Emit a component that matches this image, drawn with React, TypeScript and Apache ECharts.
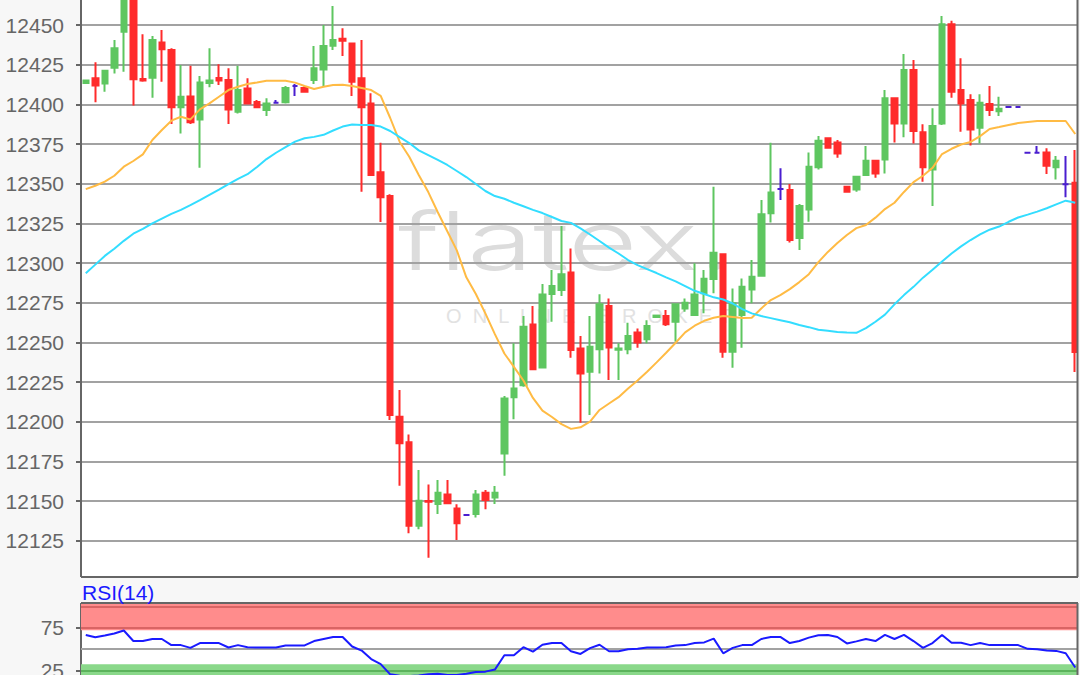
import * as React from "react";
import * as echarts from "echarts";

const opens = [
  12413.5, 12416.4, 12413.2, 12423.1, 12445.8, 12470, 12416, 12416.8, 12439, 12434.2, 12398.1, 12405, 12390.5, 12413.4, 12416.6,
  12415.3, 12395.4, 12410, 12401.5, 12396.4, 12401, 12401.3, 12411.6, 12410.3, 12415.3, 12422, 12437, 12441.4, 12438.4, 12416.4,
  12400.6, 12357.2, 12342.2, 12203.2, 12187, 12134.5, 12150, 12148.2, 12154.2, 12145.4, 12141.2, 12141.8, 12155.3, 12152.3, 12180,
  12215.4, 12223, 12261.3, 12234.2, 12280.5, 12283, 12294.1, 12246.2, 12231.5, 12245.6, 12272.9, 12245.4, 12245.6, 12256.3, 12251.9,
  12266, 12266.6, 12263, 12271.4, 12267.2, 12280.9, 12289.9, 12305.5, 12244.1, 12267.2, 12283.4, 12292, 12331.3, 12346.6, 12346,
  12315.8, 12333.8, 12360.3, 12378.6, 12376, 12348.1, 12346.4, 12355.5, 12364.5, 12365.3, 12403.8, 12388, 12421.6, 12382.4, 12359,
  12388, 12450.4, 12409, 12402.7, 12385.3, 12400.2, 12395.6, 12398.3, 12398.3, 12369.5, 12369.5, 12369.7, 12360.3, 12349.6, 12350.6,
];
const closes = [
  12415, 12411.8, 12421.2, 12435.3, 12470, 12415.8, 12415, 12440.5, 12434.7, 12398.1, 12404.8, 12388.7, 12413.7, 12415.1, 12415.1,
  12396.8, 12409, 12400.6, 12398.1, 12400.6, 12401, 12410.3, 12411.6, 12408, 12422.7, 12436.8, 12440.5, 12440, 12414.3, 12398.1,
  12355.5, 12341.4, 12204.2, 12186.4, 12134.5, 12150.2, 12149.6, 12155.3, 12148.6, 12136, 12141.2, 12154.2, 12150.7, 12155.3, 12214.7,
  12221, 12259.9, 12233, 12280.2, 12285.5, 12293, 12245.2, 12230.4, 12247.3, 12274.1, 12246.8, 12246.2, 12254, 12250, 12260.3,
  12266.9, 12261.5, 12274.1, 12275, 12280.2, 12290.1, 12306.5, 12244.1, 12274.6, 12285, 12291.4, 12330.7, 12344.4, 12346.6, 12314.5,
  12335.9, 12360.7, 12377.1, 12372.7, 12369.1, 12345, 12354.4, 12364.5, 12356.5, 12403.8, 12388, 12421.6, 12383.2, 12360.3, 12386.3,
  12450.4, 12408, 12400.6, 12384.2, 12401, 12396.4, 12397.3, 12398.3, 12398.3, 12369.5, 12369.5, 12361.3, 12364.5, 12349.6, 12244,
];
const lows = [
  12413.5, 12401.3, 12408, 12419.5, 12420.6, 12399.2, 12414.3, 12404.2, 12414.3, 12387.6, 12381.7, 12387.6, 12360, 12410.7, 12412.2,
  12387.6, 12394.3, 12400, 12398, 12392.6, 12401, 12400.6, 12405.3, 12408, 12412.8, 12411, 12434.2, 12430.5, 12405.3, 12345,
  12355.5, 12325.8, 12201.1, 12159.7, 12129.7, 12132.2, 12114.3, 12141.8, 12148, 12125.5, 12141.2, 12139.7, 12144.8, 12148.2, 12166,
  12201.5, 12222, 12232.5, 12234, 12263, 12279.2, 12240.3, 12199.4, 12204.2, 12230.4, 12226.3, 12226.3, 12242.6, 12246.6, 12249.4,
  12266, 12260.3, 12250.4, 12269.3, 12267, 12268.3, 12280.9, 12240.3, 12234, 12246.6, 12274.6, 12292, 12325.6, 12339.7, 12313,
  12308.2, 12326, 12359, 12372.5, 12366.4, 12345, 12345, 12355, 12353.8, 12356.5, 12376, 12379.2, 12375.4, 12351.3, 12336,
  12387, 12404.2, 12382.8, 12374, 12375.4, 12392.6, 12392.6, 12398.3, 12398.3, 12369.5, 12369.5, 12356.1, 12352.7, 12341.4, 12231.3,
];
const highs = [
  12415, 12426.5, 12421.5, 12440.5, 12472, 12472, 12444.1, 12443, 12446.8, 12435.3, 12424.8, 12424.4, 12417.9, 12435.3, 12425.2,
  12422.7, 12424.4, 12416.4, 12402.7, 12403.8, 12402.7, 12411.6, 12412.8, 12411.6, 12436.8, 12450, 12462, 12447.9, 12438.9, 12440.5,
  12407, 12375.8, 12343.3, 12220, 12192, 12169.6, 12160.5, 12163.3, 12163.3, 12148, 12141.2, 12157, 12157, 12159.5, 12216.2,
  12249.4, 12266.6, 12272.9, 12286.8, 12295.6, 12323.3, 12309.2, 12254, 12266.6, 12280.4, 12277.7, 12249.4, 12262.4, 12258.8, 12264,
  12266.9, 12270.4, 12274.5, 12277.7, 12299.8, 12295.6, 12348, 12305.5, 12284, 12290.3, 12301.9, 12339.7, 12375.8, 12359.7, 12349.8,
  12337.2, 12369.7, 12380, 12379, 12377.5, 12348.1, 12354.4, 12373.7, 12364.5, 12409, 12404, 12431.7, 12428, 12387.4, 12397.5,
  12455.7, 12452.7, 12429, 12406.3, 12406.3, 12411.6, 12404.8, 12398.3, 12398.3, 12369.5, 12373.7, 12372.3, 12367.4, 12367.4, 12371.2,
];
const maOrange = [
  12346.6, 12348.7, 12351.3, 12355, 12360.7, 12364.3, 12368.5, 12377.5, 12383.8, 12389.7, 12392.2, 12390.5, 12396.8, 12400.6, 12404.8,
  12409, 12411.1, 12412.8, 12413.8, 12414.9, 12414.9, 12414.9, 12413.7, 12411.6, 12409.7, 12411.1, 12412.2, 12412.4, 12411.6, 12410.3,
  12409, 12405.3, 12391.4, 12376.3, 12367, 12355.5, 12344.7, 12332, 12320, 12308, 12291, 12280.5, 12268.3, 12255.2, 12243,
  12234.6, 12226, 12215, 12207, 12203, 12198.5, 12195.5, 12196.5, 12200, 12207.4, 12211.5, 12215.5, 12221, 12226, 12231.5,
  12237.4, 12243.5, 12249.8, 12256.3, 12260.5, 12263.6, 12265.5, 12266.6, 12266, 12265.3, 12265.5, 12271.4, 12276.7, 12279.8, 12283.6,
  12288, 12293, 12300.6, 12307, 12312.6, 12317.7, 12322, 12324, 12328.6, 12334, 12338, 12344.8, 12351, 12355, 12360,
  12368.7, 12372, 12374.7, 12376.3, 12380, 12384.5, 12385.7, 12387, 12388.2, 12388.9, 12389.5, 12389.5, 12389.5, 12389.5, 12381.3,
];
const maCyan = [
  12293.5, 12299, 12304.5, 12309, 12314, 12318.5, 12321.5, 12325, 12328, 12331, 12333.5, 12336.5, 12339.7, 12343, 12346.3,
  12349.8, 12353, 12356, 12360.5, 12365.5, 12369.5, 12373, 12376.5, 12378.6, 12379.5, 12380.8, 12383.5, 12386, 12387.3, 12387,
  12387, 12386, 12383.2, 12379.4, 12375.6, 12371, 12368, 12365, 12361.8, 12358, 12354.2, 12349.8, 12345.4, 12342.2, 12340.5,
  12338, 12335.8, 12333.5, 12331.5, 12329, 12326.5, 12325.3, 12321.8, 12318, 12313.9, 12309.7, 12306, 12301.9, 12298.7, 12296.2,
  12293.7, 12291, 12288.4, 12285.5, 12282.5, 12280.5, 12278.4, 12277, 12274.5, 12271, 12268.3, 12266.6, 12265.3, 12264, 12262.7,
  12261, 12259.6, 12258, 12257.3, 12256.6, 12256.2, 12256, 12259, 12263, 12267.5, 12274, 12279.8, 12285, 12290.8, 12295.8,
  12301, 12306, 12310.5, 12314.5, 12318, 12321, 12323, 12326, 12328.7, 12330.5, 12332.4, 12334.5, 12337, 12339.3, 12338,
];
const rsi = [
  66.8, 64, 66, 68.4, 72, 59.6, 59.6, 62, 62, 54.8, 54.8, 51.6, 57.2, 57.2, 57.2,
  52, 54.8, 52.4, 52, 52, 52, 54.4, 54.4, 54.4, 59.6, 62, 64.4, 64.4, 53.2, 48.4,
  38.4, 32.4, 20.4, 18.8, 18.4, 19.2, 20.4, 21.2, 19.6, 19.6, 21.2, 23.2, 23.6, 26, 42.8,
  42.8, 52.4, 47.2, 55.2, 57.2, 57.2, 47.6, 44.4, 51.2, 55.2, 47.6, 47.6, 50, 50.4, 52,
  52, 52.4, 54.4, 54.8, 57.2, 58, 62.4, 45.2, 51.6, 54.8, 54.8, 62, 64.4, 64.4, 57.2,
  59.6, 63.6, 66.4, 66.8, 64.4, 56.8, 59.2, 62, 59.6, 66.8, 62, 66.8, 59.6, 51.6, 57.2,
  66.8, 57.6, 57.6, 54.8, 57.2, 54.8, 54.8, 54.8, 54.8, 50.4, 50, 48.4, 48, 45.2, 28.4,
];
const rsiLabels = [25, 75];
const rsiTitle = "RSI(14)";

const UP = "#5ec660";
const DOWN = "#ff2b2b";
const DOJI = "#4a1ed0";
const GRID_LINE = "#a2a2a2";
const FRAME = "#666666";
const PAGE_BG = "#f7f7f7";
const FONT = '"Liberation Sans", Arial, sans-serif';

const categories = opens.map((_, i) => String(i));

const candleData = opens.map((o, i) => {
  const value = [o, closes[i], lows[i], highs[i]];
  if (o !== closes[i]) return value;
  return {
    value,
    itemStyle: {
      color: DOJI,
      color0: DOJI,
      borderColor: DOJI,
      borderColor0: DOJI,
      borderColorDoji: DOJI,
    },
  };
});

const frameLine = (x1: number, y1: number, x2: number, y2: number) => ({
  type: "line",
  z: 60,
  silent: true,
  shape: { x1, y1, x2, y2 },
  style: { stroke: FRAME, lineWidth: 2 },
});

export default function App() {
  const ref = React.useRef<HTMLDivElement | null>(null);

  React.useEffect(() => {
    if (!ref.current) return;
    const chart = echarts.init(ref.current, undefined, { renderer: "svg" });
    const option: any = {
      animation: false,
      backgroundColor: PAGE_BG,
      grid: [
        { left: 81, width: 999, top: -14.67, height: 595.1, outerBoundsMode: "none" },
        { left: 81, width: 999, top: 603.3, height: 88.4, outerBoundsMode: "none" },
      ],
      xAxis: [
        { type: "category", gridIndex: 0, data: categories, show: false },
        { type: "category", gridIndex: 1, data: categories, show: false },
      ],
      yAxis: [
        {
          type: "value",
          gridIndex: 0,
          min: 12100,
          max: 12475,
          interval: 25,
          axisLine: { show: true, lineStyle: { color: FRAME, width: 2 } },
          axisTick: { show: true, length: 5, lineStyle: { color: FRAME, width: 2 } },
          axisLabel: {
            color: "#666",
            fontFamily: FONT,
            fontSize: 21,
            margin: 17,
            showMinLabel: false,
            showMaxLabel: false,
            formatter: (v: number) => String(v),
          },
          splitLine: { show: true, lineStyle: { color: GRID_LINE, width: 2 } },
        },
        {
          type: "value",
          gridIndex: 1,
          min: 0,
          max: 104,
          axisLine: { show: true, lineStyle: { color: FRAME, width: 2 } },
          axisTick: { show: true, length: 5, customValues: rsiLabels, lineStyle: { color: FRAME, width: 2 } },
          axisLabel: { color: "#666", fontFamily: FONT, fontSize: 21, margin: 17, customValues: rsiLabels },
          splitLine: { show: false },
        },
      ],
      series: [
        {
          type: "candlestick",
          xAxisIndex: 0,
          yAxisIndex: 0,
          data: candleData,
          barWidth: 6,
          itemStyle: {
            color: UP,
            color0: DOWN,
            borderColor: UP,
            borderColor0: DOWN,
            borderWidth: 2,
          },
          z: 3,
        },
        {
          type: "line",
          xAxisIndex: 0,
          yAxisIndex: 0,
          data: maOrange,
          showSymbol: false,
          lineStyle: { color: "#ffbb44", width: 2 },
          z: 4,
        },
        {
          type: "line",
          xAxisIndex: 0,
          yAxisIndex: 0,
          data: maCyan,
          showSymbol: false,
          lineStyle: { color: "#33ddff", width: 2 },
          z: 4,
        },
        {
          type: "line",
          xAxisIndex: 1,
          yAxisIndex: 1,
          data: rsi,
          showSymbol: false,
          lineStyle: { color: "#1a1aff", width: 2 },
          z: 5,
          markArea: {
            silent: true,
            data: [
              [{ yAxis: 104, itemStyle: { color: "#ff8c8c", opacity: 1 } }, { yAxis: 72.3 }],
              [{ yAxis: 32.3, itemStyle: { color: "#8ad88a", opacity: 1 } }, { yAxis: 0 }],
            ],
          },
          markLine: {
            silent: true,
            symbol: "none",
            label: { show: false },
            data: [
              { yAxis: 100, lineStyle: { color: "#d96464", width: 2, type: "solid" } },
              { yAxis: 75, lineStyle: { color: "#d96464", width: 2, type: "solid" } },
              { yAxis: 50, lineStyle: { color: GRID_LINE, width: 2, type: "solid" } },
              { yAxis: 25, lineStyle: { color: "#5cb35c", width: 2, type: "solid" } },
            ],
          },
        },
      ],
      graphic: [
        // plot backgrounds and the watermark sit under the grid lines
        { type: "rect", z: -3, silent: true, shape: { x: 81, y: 0, width: 997, height: 577 }, style: { fill: "#fff" } },
        { type: "rect", z: -3, silent: true, shape: { x: 81, y: 603, width: 997, height: 72 }, style: { fill: "#fff" } },
        {
          type: "text",
          z: -2,
          silent: true,
          x: 398,
          y: 200,
          scaleX: 1.48,
          style: {
            text: "flatex.",
            fill: "#dcdcdc",
            fontFamily: "Inter",
            fontWeight: 300,
            fontSize: 81,
            textVerticalAlign: "top",
          },
        },
        {
          type: "text",
          z: -2,
          silent: true,
          x: 446,
          y: 306,
          style: {
            text: "O  N  L  I  N  E    B  R  O  K  E  R",
            fill: "#e2e2e2",
            fontFamily: "Liberation Sans",
            fontSize: 20,
            textVerticalAlign: "top",
          },
        },
        // page colour over what runs past the plot frame
        { type: "rect", z: 50, silent: true, shape: { x: 0, y: 577, width: 1080, height: 26 }, style: { fill: PAGE_BG } },
        { type: "rect", z: 50, silent: true, shape: { x: 1078, y: 0, width: 2, height: 675 }, style: { fill: PAGE_BG } },
        frameLine(81, 577, 1078, 577),
        frameLine(81, 603, 1078, 603),
        frameLine(1077.5, 0, 1077.5, 577),
        frameLine(1077.5, 603, 1077.5, 675),
        {
          type: "text",
          z: 60,
          silent: true,
          x: 82,
          y: 582,
          style: { text: rsiTitle, fill: "#1a1aff", fontFamily: "Liberation Sans", fontSize: 21, textVerticalAlign: "top" },
        },
      ],
    };
    chart.setOption(option);
    return () => chart.dispose();
  }, []);

  return <div ref={ref} style={{ position: "fixed", left: 0, top: 0, width: 1080, height: 675 }} />;
}
